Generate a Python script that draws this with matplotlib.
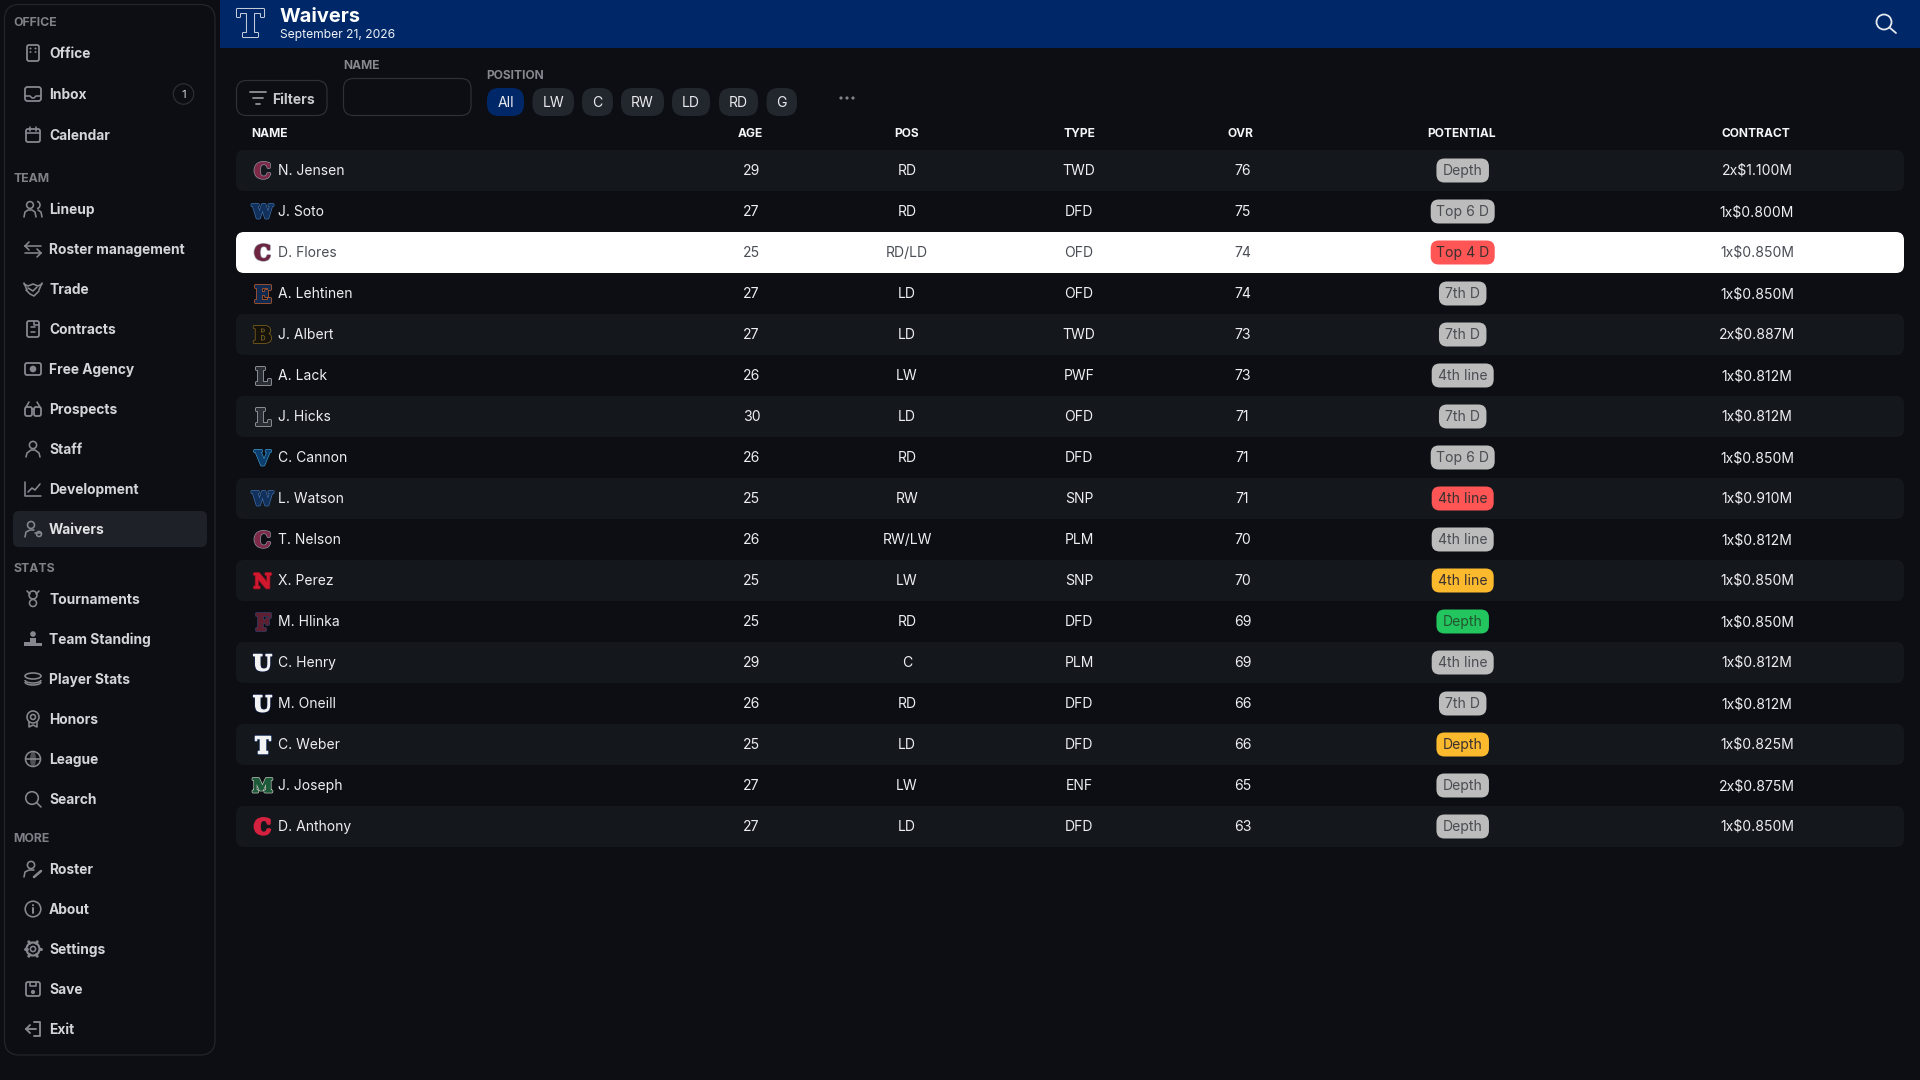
import numpy as np
import matplotlib
matplotlib.use("Agg")
import matplotlib.pyplot as plt
from matplotlib.patches import FancyBboxPatch, Circle, Rectangle, Arc, Ellipse
import matplotlib.patheffects as pe

# ---------- data ----------
names = ["N. Jensen","J. Soto","D. Flores","A. Lehtinen","J. Albert","A. Lack","J. Hicks","C. Cannon","L. Watson",
         "T. Nelson","X. Perez","M. Hlinka","C. Henry","M. Oneill","C. Weber","J. Joseph","D. Anthony"]
ages = [29,27,25,27,27,26,30,26,25,26,25,25,29,26,25,27,27]
positions = ["RD","RD","RD/LD","LD","LD","LW","LD","RD","RW","RW/LW","LW","RD","C","RD","LD","LW","LD"]
types = ["TWD","DFD","OFD","OFD","TWD","PWF","OFD","DFD","SNP","PLM","SNP","DFD","PLM","DFD","DFD","ENF","DFD"]
ovr = [76,75,74,74,73,73,71,71,71,70,70,69,69,66,66,65,63]
potential = ["Depth","Top 6 D","Top 4 D","7th D","7th D","4th line","7th D","Top 6 D","4th line",
             "4th line","4th line","Depth","4th line","7th D","Depth","Depth","Depth"]
pot_kind = ["g","g","r","g","g","g","g","g","r","g","y","e","g","g","y","g","g"]
contracts = ["2x$1.100M","1x$0.800M","1x$0.850M","1x$0.850M","2x$0.887M","1x$0.812M","1x$0.812M","1x$0.850M","1x$0.910M",
             "1x$0.812M","1x$0.850M","1x$0.850M","1x$0.812M","1x$0.812M","1x$0.825M","2x$0.875M","1x$0.850M"]
logo_letters = list("CWCEBLLVWCNFUUTMC")
logo_fill = ["#7d2a48","#12305c","#6f2440","#122a50","#15120c","#2a2d33","#2a2d33","#0d3f6e","#12305c",
             "#7d2a48","#d0182f","#5e1f30","#f2f2f2","#f2f2f2","#f2f2f2","#1d5a3a","#d3213f"]
logo_edge = ["#8d93a3","#3f6ea8","#9aa0ae","#c8622a","#8a6a1e","#b0b3b8","#b0b3b8","#3d93c4","#3f6ea8",
             "#8d93a3","#7a1020","#2c3e66","#10204a","#10204a","#26406f","#c0c4b8","#d3213f"]
logo_size = {"W":18.5,"M":18.5,"C":21,"V":20,"N":20}

columns = ["NAME","AGE","POS","TYPE","OVR","POTENTIAL","CONTRACT"]
chips = ["All","LW","C","RW","LD","RD","G"]
sidebar = [("head","OFFICE",21),("office","Office",53),("inbox","Inbox",94),("calendar","Calendar",135),
           ("head","TEAM",177),("lineup","Lineup",209),("swap","Roster management",249),("trade","Trade",289),
           ("doc","Contracts",329),("agency","Free Agency",369),("binoc","Prospects",409),("staff","Staff",449),
           ("chart","Development",489),("waive","Waivers",529),
           ("head","STATS",568),("trophy","Tournaments",599),("podium","Team Standing",639),("stack","Player Stats",679),
           ("medal","Honors",719),("globe","League",759),("search","Search",799),
           ("head","MORE",838),("rosterp","Roster",869),("info","About",909),("gear","Settings",949),
           ("save","Save",989),("exit","Exit",1029)]

# ---------- style ----------
BG = "#0c0e13"; ROW = "#14171c"; HDR = "#002868"; LINE = "#23262c"; ICON = "#85888e"
pill_col = {"g":"#bcbcbc","r":"#ff5555","y":"#fbb92e","e":"#22c55e"}
pill_w = {"Depth":52.5,"Top 6 D":64,"Top 4 D":64,"7th D":47.5,"4th line":62}
FONT = "Inter"
px = 0.72

fig = plt.figure(figsize=(19.2,10.8), dpi=100, facecolor=BG)
ax = fig.add_axes([0,0,1,1]); ax.set_xlim(0,1920); ax.set_ylim(1080,0); ax.axis("off")

def rr(x0,y0,x1,y1,r,fc="none",ec="none",lw=1.0,z=2):
    ax.add_patch(FancyBboxPatch((x0,y0),x1-x0,y1-y0,boxstyle=f"round,pad=0,rounding_size={r}",fc=fc,ec=ec,lw=lw*px,zorder=z))
def T(x,y,s,size,color,w="normal",ha="left",fam=FONT,z=5):
    return ax.text(x,y,s,fontsize=size*px,color=color,fontweight=w,ha=ha,va="center_baseline",family=fam,zorder=z)
def L(x,y,c=ICON,lw=1.6):
    ax.plot(x,y,color=c,lw=lw*px,solid_capstyle="round",zorder=4)
def C(x,y,r,fc="none",ec=ICON,lw=1.6):
    ax.add_patch(Circle((x,y),r,fc=fc,ec=ec,lw=lw*px,zorder=4))

def icon(kind,cx,cy):
    a=lambda *v:[cx+t for t in v]; b=lambda *v:[cy+t for t in v]
    if kind=="office":
        rr(cx-6,cy-8,cx+6,cy+8,2,ec=ICON,lw=1.8,z=4)
        for dx in (-2.5,2.5):
            for dy in (-4.5,-1):
                C(cx+dx,cy+dy,0.7,fc=ICON,lw=0.5)
    elif kind=="inbox":
        rr(cx-8,cy-7,cx+8,cy+7,2.5,ec=ICON,lw=1.8,z=4); L(a(-8,-3,-1,1,3,8),b(2,2,4,4,2,2))
    elif kind=="calendar":
        rr(cx-7,cy-6,cx+7,cy+7,2,ec=ICON,lw=1.8,z=4); L(a(-7,7),b(-2,-2)); L(a(-3,-3),b(-8,-4)); L(a(3,3),b(-8,-4))
    elif kind=="lineup":
        C(cx-3,cy-4,3.4); L(a(-9,-8,-5,-1,2,3),b(8,3,1,1,3,8))
        ax.add_patch(Arc((cx+4,cy-4),6,7,theta1=-90,theta2=90,color=ICON,lw=1.6*px,zorder=4)); L(a(5,8,9),b(1,3,8))
    elif kind=="swap":
        L(a(-8,8),b(-3,-3)); L(a(-8,-4),b(-3,-7)); L(a(-8,-4),b(-3,1)); L(a(-8,8),b(4,4)); L(a(8,4),b(4,0)); L(a(8,4),b(4,8))
    elif kind=="trade":
        L(a(-9,-5,0,5,9),b(-5,-3,-5,-3,-5)); L(a(-7,-3,1,6),b(1,5,7,2)); L(a(-5,0,4),b(-1,2,-2)); L(a(-9,-6),b(-6,1)); L(a(9,6),b(-6,1))
    elif kind=="doc":
        rr(cx-6,cy-8,cx+6,cy+8,2,ec=ICON,lw=1.8,z=4); L(a(-2,2),b(-2,-2)); L(a(-2,2),b(3,3)); L(a(1,1,6),b(-8,-4,-4))
    elif kind=="agency":
        rr(cx-8,cy-6,cx+8,cy+6,2,ec=ICON,lw=1.8,z=4); C(cx,cy,2.5,fc=ICON)
    elif kind=="binoc":
        rr(cx-8,cy-2,cx-1,cy+7,2,ec=ICON,lw=1.8,z=4); rr(cx+1,cy-2,cx+8,cy+7,2,ec=ICON,lw=1.8,z=4)
        L(a(-7,-4),b(-2,-7)); L(a(7,4),b(-2,-7)); L(a(-1,1),b(0,0))
    elif kind=="staff":
        C(cx,cy-4,3.6); L(a(-7,-6,-2,2,6,7),b(8,4,1,1,4,8))
    elif kind=="chart":
        L(a(-8,-8,8),b(-7,7,7)); L(a(-5,-1,2,7),b(3,-1,1,-5))
    elif kind=="waive":
        C(cx-2,cy-4,3.5); L(a(-8,-7,-3,1),b(8,3,1,1)); L(a(2,8),b(4,4)); C(cx+6,cy+5,2.5)
    elif kind=="trophy":
        C(cx,cy-4,4); C(cx,cy+4,3.5); L(a(-6,-3),b(-8,-5)); L(a(6,3),b(-8,-5))
    elif kind=="podium":
        for dx,h in ((-6,4),(0,8),(6,3)):
            ax.add_patch(Rectangle((cx+dx-2.7,cy+7-h),5.4,h,fc=ICON,ec="none",zorder=4))
        C(cx,cy-5,2,fc=ICON)
    elif kind=="stack":
        ax.add_patch(Ellipse((cx,cy-3),16,6,fc="none",ec=ICON,lw=1.6*px,zorder=4))
        ax.add_patch(Arc((cx,cy+1),16,6,theta1=0,theta2=180,color=ICON,lw=1.6*px,zorder=4))
        ax.add_patch(Arc((cx,cy+3),16,6,theta1=0,theta2=180,color=ICON,lw=1.6*px,zorder=4))
    elif kind=="medal":
        C(cx,cy-2,6); C(cx,cy-2,2.5); L(a(-4,-4,0,4,4),b(3,8,6,8,3))
    elif kind=="globe":
        C(cx,cy,7.5); ax.add_patch(Ellipse((cx,cy),6,15,fc=ICON,ec="none",alpha=.55,zorder=4)); L(a(-7,7),b(0,0))
    elif kind=="search":
        C(cx-1,cy-1,6.3); L(a(3.5,8),b(3.5,8))
    elif kind=="rosterp":
        C(cx-2,cy-4,3.6); L(a(-9,-8,-4,1),b(8,3,1,1)); L(a(1,8),b(8,2),lw=2.6)
    elif kind=="info":
        C(cx,cy,7.8); L(a(0,0),b(-1,4),lw=2); C(cx,cy-3.8,0.6,fc=ICON,lw=.8)
    elif kind=="gear":
        C(cx,cy,2.6); C(cx,cy,6.5,lw=2.2)
        for t in np.arange(0,360,60):
            q=np.deg2rad(t); L([cx+6.5*np.cos(q),cx+8.4*np.cos(q)],[cy+6.5*np.sin(q),cy+8.4*np.sin(q)],lw=3)
    elif kind=="save":
        rr(cx-7,cy-7,cx+7,cy+7,2,ec=ICON,lw=1.8,z=4); L(a(-3,-3,3,3),b(-7,-3,-3,-7)); C(cx,cy+3,1.3,fc=ICON)
    elif kind=="exit":
        L(a(1,7,7,1),b(-7,-7,7,7),lw=1.9); L(a(-7,3),b(0,0),lw=1.9); L(a(-7,-3),b(0,-4),lw=1.9); L(a(-7,-3),b(0,4),lw=1.9)

# ---------- sidebar ----------
rr(4.5,4.5,215,1055,15,fc=BG,ec=LINE,lw=1.2,z=1)
rr(13,511,207,547,6,fc="#1e2228",z=1.5)
for kind,label,y in sidebar:
    if kind=="head":
        T(13,y,label,12.3,"#7e8187",w="bold")
    else:
        icon(kind,33,y)
        T(49,y-0.3,label,13.8,"#d3d5d9" if label!="Waivers" else "#e2e3e6",w="bold")
C(183.5,94,10.2,fc="none",ec="#2c3036",lw=1.2)
T(183.5,93.5,"1",11.5,"#d3d5d9",ha="center")

# ---------- top bar ----------
ax.add_patch(Rectangle((220,0),1700,48,fc=HDR,ec="none",zorder=1))
t=T(250,22,"T",36,HDR,w="bold",ha="center",fam="DejaVu Serif")
t.set_path_effects([pe.withStroke(linewidth=2.2,foreground="#dfe3ea"),pe.Stroke(linewidth=0.9,foreground=HDR),pe.Normal()])
T(280,15,"Waivers",20,"#ffffff",w="bold")
T(280,33.5,"September 21, 2026",12.1,"#f0f2f6")
ax.add_patch(Circle((1884,22),7.5,fc="none",ec="#e6e9ef",lw=1.8*px,zorder=4))
ax.plot([1889.5,1896],[27.5,33],color="#e6e9ef",lw=1.8*px,solid_capstyle="round",zorder=4)

# ---------- filter row ----------
rr(236.5,80.5,327,115.5,10,ec="#2d3036",lw=1.2)
for w,yy,lw in ((8,92,1.8),(5,98,1.8),(2,103.5,1.8)):
    ax.plot([258-w,258+w],[yy,yy],color="#90939a",lw=lw*px,zorder=4,solid_capstyle="round")
T(272,98,"Filters",14,"#c6c8cc",w="bold")
T(343,64.5,"NAME",12,"#85888e",w="bold")
rr(343.5,78.5,471,115.5,10,ec="#2d3036",lw=1.2)
T(486.5,74.5,"POSITION",12,"#85888e",w="bold")
chip_x0 = [487,532.5,582,621,672,719,766.5]
chip_x1 = [524,574,613,664,710,758,797]
for lab,x0,x1 in zip(chips,chip_x0,chip_x1):
    rr(x0,88,x1,116,12,fc=HDR if lab=="All" else "#22262d")
    T((x0+x1)/2,101.7,lab,14,"#e8e9ec",ha="center")
for dx in (-6,0,6):
    ax.add_patch(Circle((847+dx,98),1.6,fc="#80838a",ec="none",zorder=4))

# ---------- table ----------
hdr_x = [251.5,750.5,906.5,1079,1240.5,1462,1756]
hdr_ha = ["left"]+["center"]*6
for lab,x,ha in zip(columns,hdr_x,hdr_ha):
    T(x,132.6,lab,12,"#f4f5f7",w="bold",ha=ha)
row0, rowh = 170.5, 41
for i,(n,a_,p,ty,o,po,k,c,ll,lf,le) in enumerate(zip(names,ages,positions,types,ovr,potential,pot_kind,contracts,logo_letters,logo_fill,logo_edge)):
    y=row0+i*rowh
    selected = n=="D. Flores"
    if selected:
        rr(236,y-20.5,1904,y+20.5,8,fc="#ffffff",z=1)
    elif i%2==0:
        rr(236,y-20.5,1904,y+20.5,8,fc=ROW,z=1)
    tc="#4a4e55" if selected else "#eceef1"
    yt=y-0.7
    lt=T(262.5,y-0.5,ll,logo_size.get(ll,22),lf,w="bold",ha="center",fam="DejaVu Serif")
    lt.set_path_effects([pe.withStroke(linewidth=2.0,foreground=le),pe.Stroke(linewidth=1.0,foreground=lf),pe.Normal()])
    T(278,yt,n,13.9,tc)
    T(751.5,yt,str(a_),14,tc,ha="center")
    T(907,yt,p,14,tc,ha="center")
    T(1079,yt,ty,14,tc,ha="center")
    T(1242.5,yt,str(o),14,tc,ha="center")
    w=pill_w[po]
    rr(1462.7-w/2,y-12,1462.7+w/2,y+12,8,fc=pill_col[k],z=3)
    T(1462.7,yt,po,14,"#4b4d52" if k=="g" else "#3a3030" if k!="e" else "#24552f",ha="center")
    T(1757,yt-0.3,c,14,tc,ha="center")

fig.savefig("out.png",dpi=100,facecolor=BG)
